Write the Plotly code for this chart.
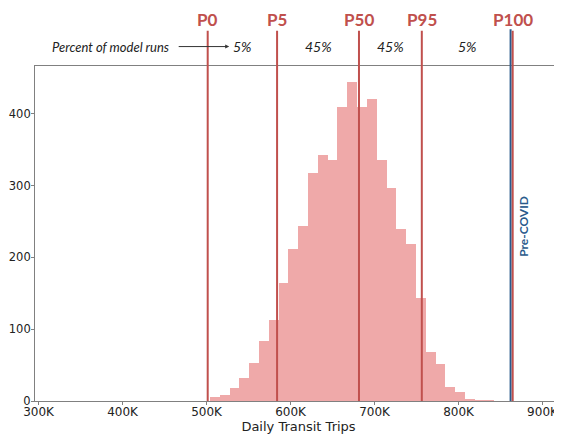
import plotly.graph_objects as go

# histogram of model runs (30 bins)
bin_start = 504200
bin_width = 11670
counts = [5, 8, 18, 32, 53, 84, 113, 164, 211, 244,
          317, 342, 336, 409, 444, 409, 421, 336, 297, 239,
          219, 143, 68, 52, 20, 13, 2, 1, 1, 0]

# percentile lines
pct_names = ["P0", "P5", "P50", "P95", "P100"]
pct_values = [501400, 584000, 681500, 756300, 864500]
share_labels = ["5%", "45%", "45%", "5%"]
pre_covid = 862000

x_ticks = [300000, 400000, 500000, 600000, 700000, 800000, 900000]
x_tick_text = ["300K", "400K", "500K", "600K", "700K", "800K", "900K"]
y_ticks = [0, 100, 200, 300, 400]

RED = "#c0504d"
BLUE = "#2a5a8c"

centers = [bin_start + bin_width * (i + 0.5) for i in range(len(counts))]

fig = go.Figure()
fig.add_trace(go.Bar(x=centers, y=counts, width=bin_width,
                     marker=dict(color="#efa9a9", line=dict(width=0)),
                     showlegend=False))

# vertical lines reaching above the plot area
fig.add_shape(type="line", xref="x", yref="paper", x0=pre_covid, x1=pre_covid,
              y0=0, y1=1.11, line=dict(color=BLUE, width=2))
for name, v in zip(pct_names, pct_values):
    fig.add_shape(type="line", xref="x", yref="paper", x0=v, x1=v,
                  y0=0, y1=1.105, line=dict(color=RED, width=2))
    fig.add_annotation(x=v, y=1.139, xref="x", yref="paper", yanchor="middle",
                       text="<b>%s</b>" % name, showarrow=False,
                       font=dict(family="Lato", size=17, color=RED))

# share of runs between percentiles
for i, lab in enumerate(share_labels):
    mid = (pct_values[i] + pct_values[i + 1]) / 2
    fig.add_annotation(x=mid, y=1.058, xref="x", yref="paper", yanchor="middle",
                       text="<i>%s</i>" % lab, showarrow=False,
                       font=dict(family="Lato", size=14, color="#222"))

fig.add_annotation(x=0.258, y=1.058, xref="paper", yref="paper", xanchor="right",
                   yanchor="middle", text="<i>Percent of model runs</i>", showarrow=False,
                   font=dict(family="Lato", size=13, color="#222"))
fig.add_annotation(x=527000, y=1.058, xref="x", yref="paper", text="",
                   showarrow=True, ax=-52, ay=0, arrowhead=2, arrowsize=0.8,
                   arrowwidth=1, arrowcolor="#333")

fig.add_annotation(x=878000, y=0.52, xref="x", yref="paper", text="<b>Pre-COVID</b>",
                   textangle=-90, showarrow=False,
                   font=dict(family="Lato", size=12, color=BLUE))

# page body adds an 8px margin, so the figure is sized to fit inside it
fig.update_layout(
    width=554, height=428,
    margin=dict(l=27, r=0, t=58, b=35),
    plot_bgcolor="white", paper_bgcolor="white",
    bargap=0,
    font=dict(family="DejaVu Sans", size=12, color="#222"),
)
fig.update_xaxes(range=[295800, 923200], tickvals=x_ticks, ticktext=x_tick_text,
                 showgrid=False, zeroline=False, showline=True, mirror=True,
                 linecolor="#808080", linewidth=1, ticks="outside", ticklen=3,
                 tickcolor="#808080", tickfont=dict(size=12), automargin=False,
                 ticklabelstandoff=-3,
                 title=dict(text="Daily Transit Trips", font=dict(size=13), standoff=0))
fig.update_yaxes(range=[0, 466.5], tickvals=y_ticks, showgrid=False, zeroline=False,
                 showline=True, linecolor="#808080", linewidth=1, ticks="outside",
                 ticklen=3, tickcolor="#808080", tickfont=dict(size=11.5),
                 ticklabelstandoff=-2, automargin=False)

fig.write_html("out.html")
